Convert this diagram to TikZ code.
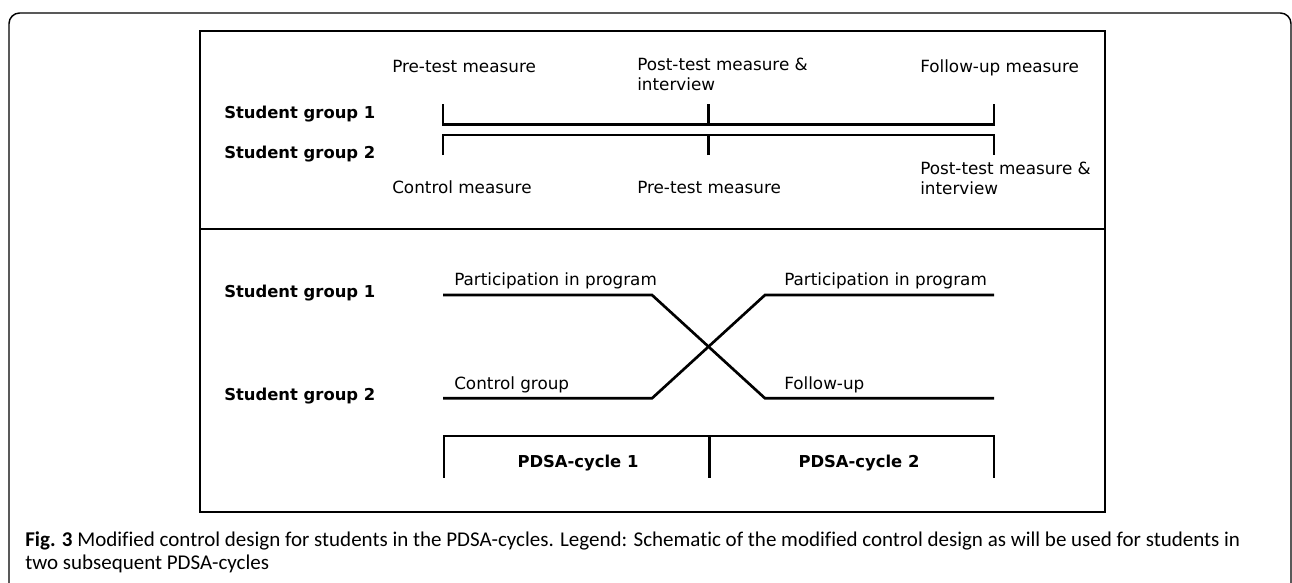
\documentclass[tikz,border=0pt]{standalone}
\usepackage{fontspec}
\setmainfont{DejaVu Sans}
\newfontfamily\capfont[Ligatures=NoCommon]{Carlito}
\begin{document}
\begin{tikzpicture}[x=0.75pt,y=-0.75pt,
  lbl/.style={anchor=base west,inner sep=0pt,font=\fontsize{12.6pt}{15pt}\selectfont},
  grp/.style={anchor=base west,inner sep=0pt,font=\fontsize{12.3pt}{15pt}\selectfont\bfseries},
  cyc/.style={anchor=base,inner sep=0pt,font=\fontsize{12.3pt}{15pt}\selectfont\bfseries},
  captext/.style={anchor=base west,inner sep=0pt,font=\capfont\fontsize{15.75pt}{19pt}\selectfont},
  tl/.style={line width=2pt},
  frame/.style={line width=1.9pt},
  outer/.style={line width=1.1pt,rounded corners=8pt}]
\useasboundingbox (0,0) rectangle (1292,582);
% outer rounded frame (open at bottom)
\draw[outer] (9,600) -- (9,13) -- (1291,13) -- (1291,600);
% inner frame and divider
\draw[frame] (200,31) rectangle (1105,512);
\draw[frame] (200,229) -- (1105,229);
% top panel labels
\node[lbl] (pre1) at (392,72.7) {Pre-test measure};
\node[lbl,align=left,anchor=north west] (post1) at (637,58) {Post-test measure \&\\interview};
\node[lbl] (fu1) at (920,72.7) {Follow-up measure};
\node[grp] (g1a) at (224,118.3) {Student group 1};
\node[grp] (g2a) at (224,158.3) {Student group 2};
\node[lbl] (ctl2) at (392,193.3) {Control measure};
\node[lbl] (pre2) at (637,193.3) {Pre-test measure};
\node[lbl,align=left,anchor=north west] (post2) at (920,161.5) {Post-test measure \&\\interview};
% timelines
\coordinate (a1) at (443,104); \coordinate (a2) at (443,124.3);
\coordinate (b1) at (708.5,104); \coordinate (b2) at (708.5,124.3);
\coordinate (c1) at (994,104); \coordinate (c2) at (994,124.3);
\draw[tl] (a1) -- (a2) -- (c2) -- (c1);
\draw[tl] (b1) -- (b2);
\coordinate (d1) at (443,155); \coordinate (d2) at (443,135);
\coordinate (e1) at (708.5,155); \coordinate (e2) at (708.5,135);
\coordinate (f1) at (994,155); \coordinate (f2) at (994,135);
\draw[tl] (d1) -- (d2) -- (f2) -- (f1);
\draw[tl] (e1) -- (e2);
% bottom panel
\node[grp] (g1b) at (224,297.3) {Student group 1};
\node[grp] (g2b) at (224,400) {Student group 2};
\node[lbl] (part1) at (454,285) {Participation in program};
\node[lbl] (ctlg) at (454,389.3) {Control group};
\node[lbl] (part2) at (784,285) {Participation in program};
\node[lbl] (fup) at (784,389.3) {Follow-up};
\coordinate (p0) at (443,295); \coordinate (p1) at (652,295);
\coordinate (p2) at (765,398.3); \coordinate (p3) at (994,398.3);
\coordinate (q0) at (443,398.3); \coordinate (q1) at (652,398.3);
\coordinate (q2) at (765,295); \coordinate (q3) at (994,295);
\draw[tl] (p0) -- (p1) -- (p2) -- (p3);
\draw[tl] (q0) -- (q1) -- (q2) -- (q3);
% PDSA bracket
\coordinate (r0) at (444,477.7); \coordinate (r1) at (444,436);
\coordinate (s0) at (709.3,477.7); \coordinate (s1) at (709.3,436);
\coordinate (t0) at (994,477.7); \coordinate (t1) at (994,436);
\draw[tl] (r0) -- (r1) -- (t1) -- (t0);
\draw[tl] (s1) -- (s0);
\node[cyc] (cy1) at (578,467.3) {PDSA-cycle 1};
\node[cyc] (cy2) at (859,467.3) {PDSA-cycle 2};
% caption
\node[captext] (cap1) at (25,546.7) {\textbf{Fig. 3} Modified control design for students in the PDSA-cycles. Legend: Schematic of the modified control design as will be used for students in};
\node[captext] (cap2) at (25,569) {two subsequent PDSA-cycles};
\end{tikzpicture}
\end{document}
